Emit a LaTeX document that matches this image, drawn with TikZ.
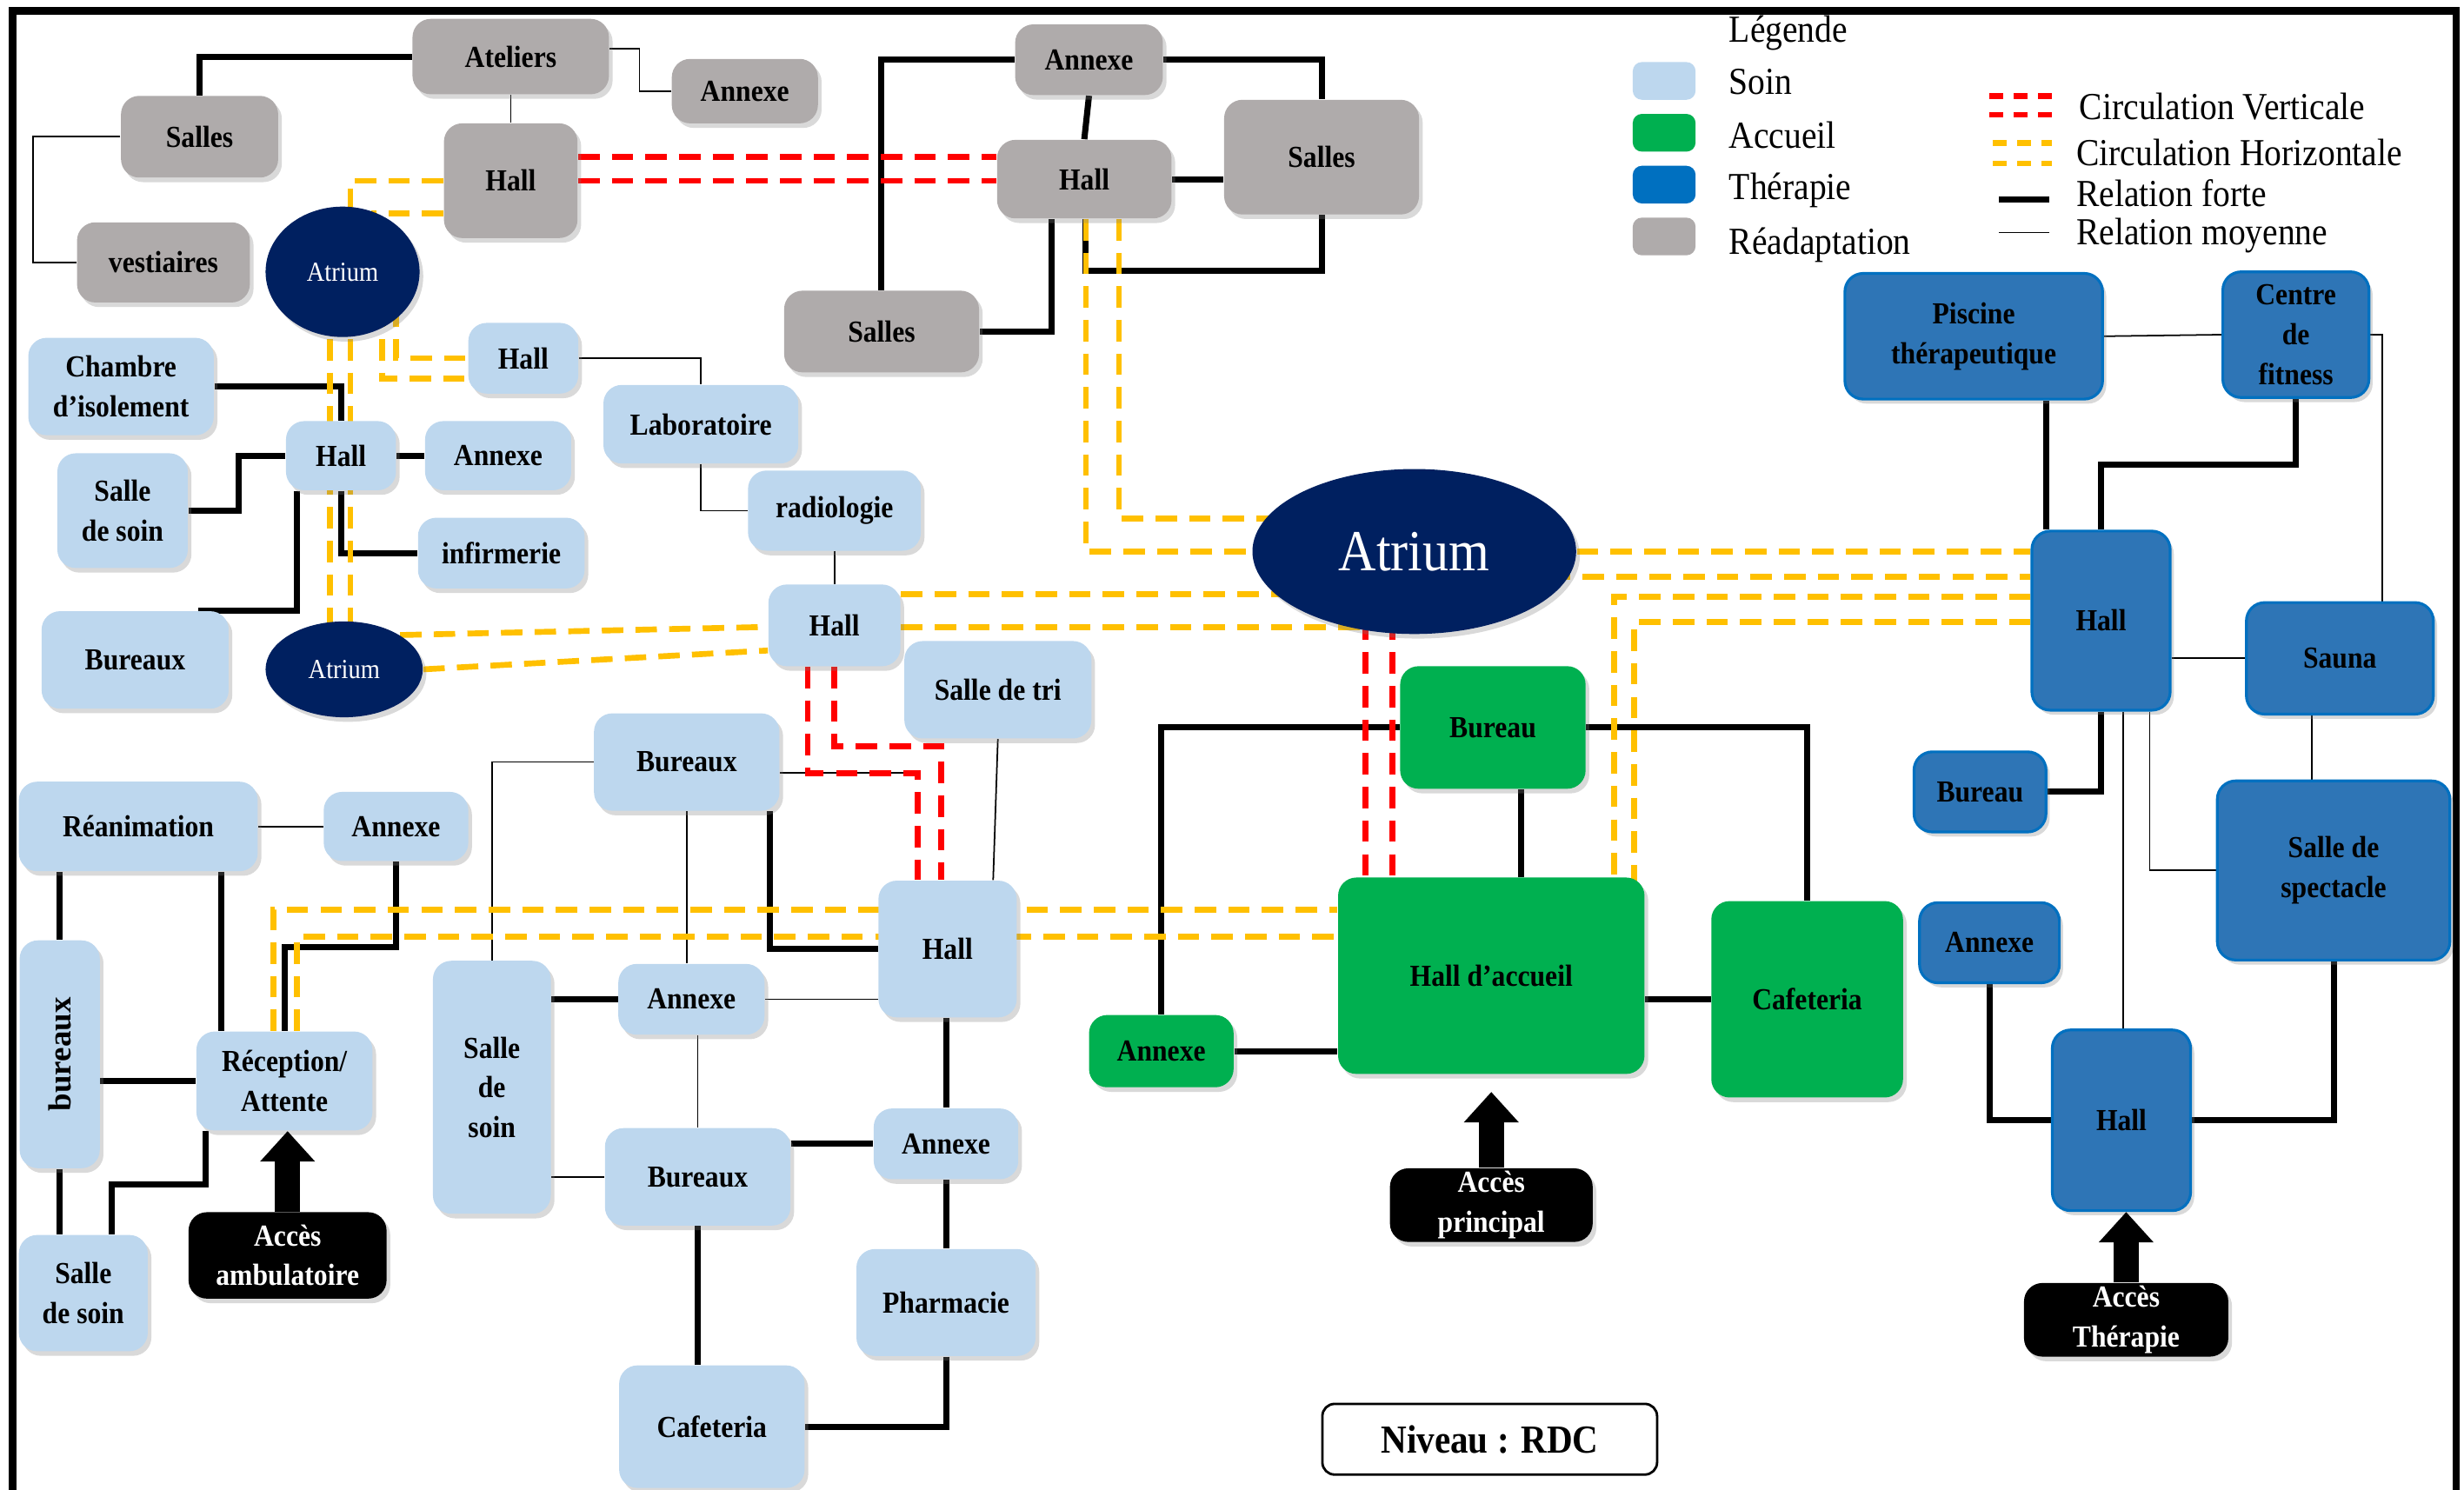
\documentclass[tikz,border=0pt]{standalone}
\usepackage{fontspec}
\setmainfont{Liberation Serif}[FakeStretch=0.9]
\newfontfamily\plainserif{Liberation Serif}
\usepackage{graphicx}
\usepackage{xcolor}
\usepackage{tikz}
\usetikzlibrary{arrows.meta,shapes.geometric,shadows,backgrounds}

\definecolor{soinc}{HTML}{BDD7EE}
\definecolor{accueilc}{HTML}{00B050}
\definecolor{therac}{HTML}{2E75B6}
\definecolor{therab}{HTML}{0070C0}
\definecolor{readc}{HTML}{AFABAB}
\definecolor{atriumc}{HTML}{002060}
\definecolor{horizc}{HTML}{FFC000}
\definecolor{vertc}{HTML}{FF0000}

\begin{document}
\begin{tikzpicture}[x=0.018074cm, y=-0.018074cm,
  sz/.style 2 args={minimum width={#1*0.018074cm}, minimum height={#2*0.018074cm}},
  piece/.style={rounded corners=6pt, align=center, inner sep=1pt,
    font=\bfseries\fontsize{10}{13}\selectfont,
    drop shadow={shadow xshift=1.2pt, shadow yshift=-1.5pt, opacity=0.3}},
  soin/.style={piece, fill=soinc},
  accueil/.style={piece, fill=accueilc},
  therapie/.style={piece, fill=therac, draw=therab, line width=0.9pt},
  readapt/.style={piece, fill=readc},
  acces/.style={piece, fill=black, text=white},
  atrium/.style={ellipse, fill=atriumc, text=white, inner sep=0pt,
    drop shadow={shadow xshift=1.2pt, shadow yshift=-1.5pt, opacity=0.3}},
  forte/.style={line width=2pt},
  moyenne/.style={line width=0.5pt},
  horiz/.style={draw=horizc, line width=1.9pt, dash pattern=on 7pt off 4pt},
  vert/.style={draw=vertc, line width=1.9pt, dash pattern=on 7pt off 4pt},
  entree/.style={line width=8.2pt, -{Triangle[length=0.35cm, width=0.61cm]}},
  lg/.style={anchor=west, inner sep=0pt, font=\fontsize{12.5}{14}\selectfont}]
  \useasboundingbox (0,0) rectangle (1568,948);
  % cadre
  \draw[line width=2.5pt] (8,950) -- (8,7) -- (1563,7) -- (1563,950);

  % legende
  \node[lg] (lgTitre) at (1100,21) {Légende};
  \foreach \n/\c/\t/\y/\ty in {Soin/soinc/Soin/51.5/52, Accueil/accueilc/Accueil/84.5/86,
                              Therapie/therab/Thérapie/117.5/121, Readapt/readc/Réadaptation/150.5/156} {
    \node[fill=\c, rounded corners=3pt, inner sep=0pt, sz={40}{24}] (sw\n) at (1059,\y) {};
    \node[lg] (lg\n) at (1100,\ty) {\t};
  }
  \node[lg] (lgVert) at (1323,68) {Circulation Verticale};
  \node[lg] (lgHoriz) at (1321,97) {Circulation Horizontale};
  \node[lg] (lgForte) at (1321,123) {Relation forte};
  \node[lg] (lgMoy) at (1321,150) {Relation moyenne};
  \foreach \y in {61,73}
    \draw[vert, dash pattern=on 4.5pt off 3.5pt] (1266,\y) -- (1306,\y);
  \foreach \y in {91,104}
    \draw[horiz, dash pattern=on 4.5pt off 3.5pt] (1268,\y) -- (1306,\y);
  \draw[forte] (1272,127) -- (1304,127);
  \draw[moyenne] (1272,148) -- (1304,148);

  % readaptation
  \node[readapt, sz={125}{48}] (ateliers) at (325,36) {Ateliers};
  \node[readapt, sz={93}{41}] (annexeA) at (474,58) {Annexe};
  \node[readapt, sz={100}{52}] (sallesA) at (127,87) {Salles};
  \node[readapt, sz={85}{73}] (hallA) at (325,115) {Hall};
  \node[readapt, sz={110}{51}] (vestiaires) at (104,167) {vestiaires};
  \node[readapt, sz={94}{45}] (annexeB) at (693,38) {Annexe};
  \node[readapt, sz={111}{50}] (hallB) at (690,114) {Hall};
  \node[readapt, sz={124}{73}] (sallesB) at (841,100) {Salles};
  \node[readapt, sz={124}{52}] (sallesC) at (561,211) {Salles};

  % atriums
  \node[atrium, sz={98}{83}, font=\fontsize{9}{10}\selectfont] (atriumA) at (218,173) {Atrium};
  \node[atrium, sz={100}{61}, font=\fontsize{9}{10}\selectfont] (atriumB) at (219,426) {Atrium};
  \node[atrium, sz={206}{105}, font=\fontsize{19}{21}\selectfont] (atriumC) at (900,351) {Atrium};

  % soin
  \node[soin, sz={70}{45}] (hallC) at (333,228) {Hall};
  \node[soin, sz={118}{62}] (chambre) at (77,246) {Chambre\\d’isolement};
  \node[soin, sz={70}{44}] (hallD) at (217,290) {Hall};
  \node[soin, sz={93}{44}] (annexeC) at (317,290) {Annexe};
  \node[soin, sz={124}{50}] (labo) at (446,270) {Laboratoire};
  \node[soin, sz={83}{73}] (soinA) at (78,325) {Salle\\de soin};
  \node[soin, sz={106}{45}] (infirm) at (319,352) {infirmerie};
  \node[soin, sz={110}{51}] (radio) at (531,325) {radiologie};
  \node[soin, sz={119}{62}] (bureauxA) at (86,420) {Bureaux};
  \node[soin, sz={84}{52}] (hallE) at (531,398) {Hall};
  \node[soin, sz={119}{62}] (tri) at (635,439) {Salle de tri};
  \node[soin, sz={118}{62}] (bureauxB) at (437,485) {Bureaux};
  \node[soin, sz={152}{57}] (reanim) at (88,526) {Réanimation};
  \node[soin, sz={92}{44}] (annexeD) at (252,526) {Annexe};
  \node[soin, sz={51}{145}] (bureauxC) at (38,671)
    {\rotatebox{90}{\plainserif\bfseries\fontsize{10.5}{12}\selectfont bureaux}};
  \node[soin, sz={112}{63}] (recep) at (181,688) {Réception/\\Attente};
  \node[soin, sz={82}{74}] (soinB) at (53,823) {Salle\\de soin};
  \node[acces, sz={126}{55}] (accesA) at (183,799) {Accès\\ambulatoire};
  \node[soin, sz={75}{161}] (soinC) at (313,692) {Salle\\de\\soin};
  \node[soin, sz={93}{45}] (annexeE) at (440,636) {Annexe};
  \node[soin, sz={118}{62}] (bureauxD) at (444,749) {Bureaux};
  \node[soin, sz={118}{78}] (cafeA) at (453,908) {Cafeteria};
  \node[soin, sz={88}{87}] (hallF) at (603,604) {Hall};
  \node[soin, sz={92}{45}] (annexeF) at (602,728) {Annexe};
  \node[soin, sz={114}{68}] (pharma) at (602,829) {Pharmacie};

  % accueil
  \node[accueil, sz={118}{78}] (bureauG) at (950,463) {Bureau};
  \node[accueil, sz={195}{125}] (accueilH) at (949,621) {Hall d’accueil};
  \node[accueil, sz={92}{46}] (annexeG) at (739,669) {Annexe};
  \node[accueil, sz={122}{125}] (cafeB) at (1150,636) {Cafeteria};
  \node[acces, sz={129}{44}] (accesB) at (949,767) {Accès\\principal};

  % therapie
  \node[therapie, sz={164}{80}] (piscine) at (1256,214) {Piscine\\thérapeutique};
  \node[therapie, sz={93}{80}] (fitness) at (1461,213) {Centre\\de\\fitness};
  \node[therapie, sz={88}{114}] (hallT) at (1337,395) {Hall};
  \node[therapie, sz={119}{71}] (sauna) at (1489,419) {Sauna};
  \node[therapie, sz={84}{51}] (bureauT) at (1260,504) {Bureau};
  \node[therapie, sz={148}{114}] (spectacle) at (1485,554) {Salle de\\spectacle};
  \node[therapie, sz={89}{51}] (annexeT) at (1266,600) {Annexe};
  \node[therapie, sz={88}{115}] (hallU) at (1350,713) {Hall};
  \node[acces, sz={130}{45}] (accesC) at (1353,840) {Accès\\Thérapie};

  \node[draw, fill=white, rounded corners=4pt, line width=0.8pt, sz={213}{45},
        font=\bfseries\fontsize{13}{15}\selectfont] (niveau) at (948,916) {Niveau : RDC};

  % acces
  \draw[entree] (accesA.north) -- (recep.south -| accesA.north);
  \draw[entree, shorten >=0.2cm] (accesB.north) -- (accueilH.south -| accesB.north);
  \draw[entree] (accesC.north) -- (hallU.south -| accesC.north);

  \begin{scope}[on background layer]
    % relations fortes
    \draw[forte] (ateliers.west) -| (sallesA.north);
    \draw[forte] (annexeB.west) -| (sallesC.north);
    \draw[forte] (annexeB.east) -| (sallesB.north);
    \draw[forte] (annexeB.south) -- (hallB.north);
    \draw[forte] (hallB.east) -- (sallesB.west |- hallB.east);
    \draw[forte] (hallB.south -| 669,0) |- (sallesC.east);
    \draw[forte] (hallB.south -| 691,0) |- (841,172.5) -- (sallesB.south);
    \draw[forte] (chambre.east) -| (hallD.north);
    \draw[forte] (hallD.west) -| (152,300) |- (soinA.east);
    \draw[forte] (hallD.east) -- (annexeC.west);
    \draw[forte] (hallD.south -| 189,0) |- (bureauxA.north -| 126,0);
    \draw[forte] (hallD.south) |- (infirm.west);
    \draw[forte] (bureauxB.south -| 490,0) |- (hallF.west);
    \draw[forte] (annexeD.south) |- (181,603) -- (recep.north);
    \draw[forte] (reanim.south -| bureauxC.north) -- (bureauxC.north);
    \draw[forte] (reanim.south -| 141,0) -- (recep.north -| 141,0);
    \draw[forte] (bureauxC.east |- recep.west) -- (recep.west);
    \draw[forte] (bureauxC.south) -- (soinB.north -| bureauxC.south);
    \draw[forte] (recep.south -| 131,0) |- (71,754) -- (soinB.north -| 71,0);
    \draw[forte] (soinC.east |- annexeE.west) -- (annexeE.west);
    \draw[forte] (bureauxD.east |- annexeF.west) -- (annexeF.west);
    \draw[forte] (bureauxD.south) -- (cafeA.north -| bureauxD.south);
    \draw[forte] (hallF.south -| annexeF.north) -- (annexeF.north);
    \draw[forte] (annexeF.south) -- (pharma.north);
    \draw[forte] (pharma.south) |- (cafeA.east);
    \draw[forte] (bureauG.west) -| (annexeG.north);
    \draw[forte] (bureauG.east) -| (cafeB.north);
    \draw[forte] (bureauG.south -| 968,0) -- (accueilH.north -| 968,0);
    \draw[forte] (annexeG.east) -- (accueilH.west |- annexeG.east);
    \draw[forte] (accueilH.east |- cafeB.west) -- (cafeB.west);
    \draw[forte] (piscine.south -| 1302,0) -- (hallT.north -| 1302,0);
    \draw[forte] (fitness.south) |- (1337,295.5) -- (hallT.north);
    \draw[forte] (hallT.south) |- (bureauT.east);
    \draw[forte] (annexeT.south) |- (hallU.west);
    \draw[forte] (spectacle.south) |- (hallU.east);

    % relations moyennes
    \draw[moyenne] (ateliers.east |- 0,31) -- (407,31) |- (annexeA.west);
    \draw[moyenne] (ateliers.south) -- (hallA.north);
    \draw[moyenne] (sallesA.west) -| (21,127) |- (vestiaires.west);
    \draw[moyenne] (hallC.east) -| (labo.north);
    \draw[moyenne] (labo.south) |- (radio.west);
    \draw[moyenne] (radio.south) -- (hallE.north);
    \draw[moyenne] (tri.south) -- (hallF.north -| 632,0);
    \draw[moyenne] (bureauxB.east |- 0,492) -- (tri.south west |- 0,492);
    \draw[moyenne] (bureauxB.west) -| (soinC.north);
    \draw[moyenne] (bureauxB.south) -- (annexeE.north -| bureauxB.south);
    \draw[moyenne] (reanim.east) -- (annexeD.west);
    \draw[moyenne] (annexeE.east) -- (hallF.west |- annexeE.east);
    \draw[moyenne] (annexeE.south -| bureauxD.north) -- (bureauxD.north);
    \draw[moyenne] (soinC.east |- bureauxD.west) -- (bureauxD.west);
    \draw[moyenne] (piscine.east) -- (fitness.west);
    \draw[moyenne] (fitness.east) -| (sauna.north -| 1516,0);
    \draw[moyenne] (hallT.east |- sauna.west) -- (sauna.west);
    \draw[moyenne] (sauna.south -| 1471,0) -- (spectacle.north -| 1471,0);
    \draw[moyenne] (hallT.south -| 1351,0) -- (hallU.north -| 1351,0);
    \draw[moyenne] (hallT.south -| 1368,0) |- (spectacle.west);

    % circulation verticale
    \foreach \y in {100,115}
      \draw[vert] (hallA.east |- 0,\y) -- (hallB.west |- 0,\y);
    \draw[vert] (hallE.south) -- (531,475) -| (hallF.north -| 599,0);
    \draw[vert] (hallE.south -| 514,0) |- (584,492) -- (hallF.north -| 584,0);
    \foreach \x in {869,886}
      \draw[vert] (atriumC -| \x,0) -- (accueilH -| \x,0);

    % circulation horizontale
    \draw[horiz] (hallA.west) -| (223,132);
    \draw[horiz] (hallA.west |- 0,136) -| (238,141);
    \draw[horiz] (hallB.south -| 712,0) |- (atriumC |- 0,330);
    \draw[horiz] (hallB.south -| 691,0) |- (atriumC.west);
    \draw[horiz] (atriumA -| 243,0) |- (hallC.west |- 0,241);
    \draw[horiz] (atriumA -| 252,0) |- (hallC.west);
    \foreach \x in {210,223}
      \draw[horiz] (atriumA -| \x,0) -- (atriumB -| \x,0);
    \draw[horiz] (atriumB.north east) -- (hallE.west |- 0,399);
    \draw[horiz] (atriumB.east) -- (hallE.west |- 0,414);
    \draw[horiz] (hallE.east |- 0,378) -- (atriumC |- 0,378);
    \draw[horiz] (hallE.east |- 0,399) -- (atriumC |- 0,399);
    \draw[horiz] (atriumC) -- (hallT.west |- atriumC);
    \draw[horiz] (atriumC |- 0,367) -- (hallT.west |- 0,367);
    \draw[horiz] (hallT.west |- 0,380) -| (accueilH -| 1027,0);
    \draw[horiz] (hallT.west |- 0,396) -| (accueilH -| 1040,0);
    \draw[horiz] (recep.north -| 174,0) |- (accueilH.west |- 0,579);
    \draw[horiz] (recep.north -| 189,0) |- (accueilH.west |- 0,596);
  \end{scope}
\end{tikzpicture}
\end{document}
